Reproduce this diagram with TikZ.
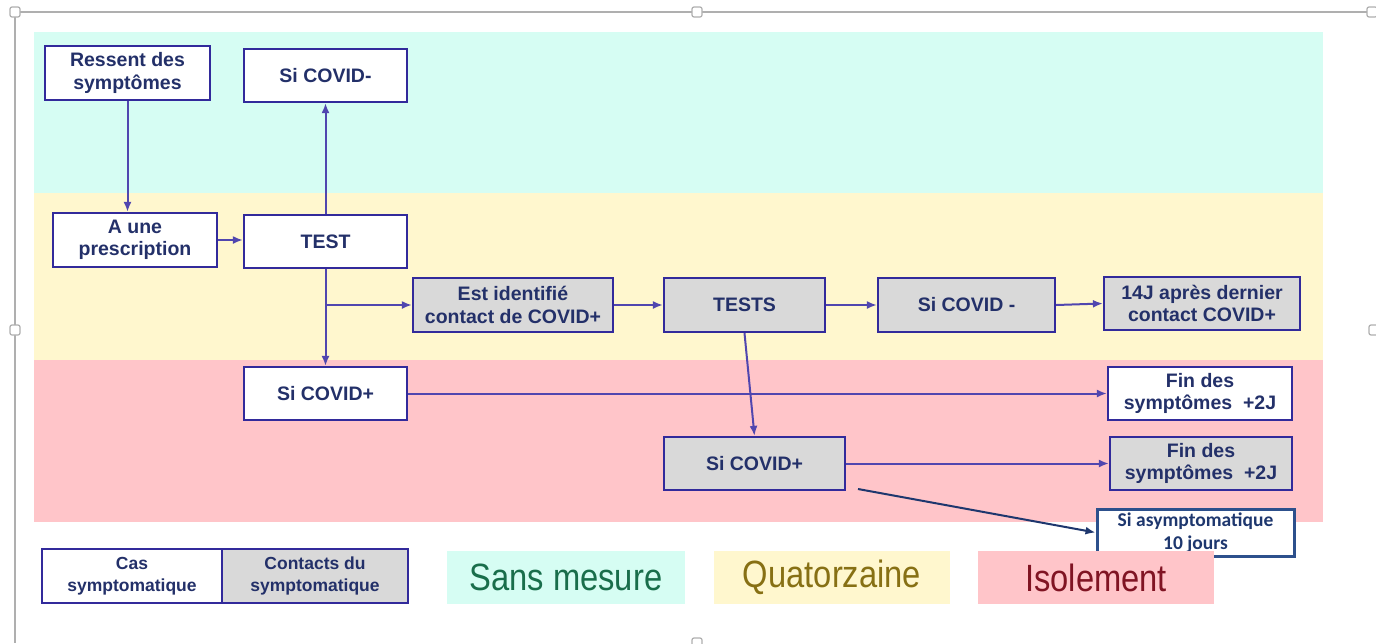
\documentclass[tikz,border=0pt]{standalone}
\usepackage{fontspec}
\setmainfont{Liberation Sans}
\newfontfamily\calib{Carlito}
\newfontfamily\legfont{Liberation Sans}[FakeStretch=0.86]
\usetikzlibrary{arrows.meta}
\definecolor{bandC}{RGB}{214,253,243}
\definecolor{bandY}{RGB}{255,247,206}
\definecolor{bandP}{RGB}{255,197,201}
\definecolor{boxc}{RGB}{50,42,155}
\definecolor{linec}{RGB}{80,70,175}
\definecolor{txt}{RGB}{35,48,105}
\definecolor{greyf}{RGB}{217,217,217}
\definecolor{asymc}{RGB}{45,80,140}
\definecolor{asymt}{RGB}{30,55,110}
\definecolor{frm}{RGB}{175,175,175}
\definecolor{tgreen}{RGB}{25,110,75}
\definecolor{tolive}{RGB}{135,112,20}
\definecolor{tred}{RGB}{128,20,35}
\tikzset{
  wbox/.style={draw=boxc, line width=2.2pt, fill=white, text=txt, align=center, inner sep=0pt,
    font=\fontsize{19.5}{22.5}\selectfont\bfseries},
  gbox/.style={wbox, fill=greyf},
  conn/.style={draw=linec, line width=2pt, -{Latex[length=10pt,width=8pt]}},
  legbox/.style={inner sep=0pt, font=\legfont\fontsize{38}{40}\selectfont},
  handle/.style={draw=frm, fill=white, line width=1.2pt, rounded corners=2pt, minimum size=10pt, inner sep=0pt}
}
\begin{document}
\begin{tikzpicture}[x=1pt,y=-1pt]
\useasboundingbox (0,0) rectangle (1376,643);
% frame
\draw[frm, line width=1.6pt] (15,12) -- (1376,12);
\draw[frm, line width=1.6pt] (15,12) -- (15,643);
\node[handle] (h1) at (15,12) {};
\node[handle] (h2) at (697,12) {};
\node[handle] (h3) at (15,330) {};
\node[handle] (h4) at (1374,330) {};
\node[handle] (h5) at (697,643) {};
\node[handle] (h6) at (1372,12) {};
% bands
\fill[bandC] (34,32) rectangle (1323,193);
\fill[bandY] (34,193) rectangle (1323,360);
\fill[bandP] (34,360) rectangle (1323,522);
% boxes
\node[wbox, minimum width=165pt, minimum height=54pt] (rs) at (127.5,73) {Ressent des\\symptômes};
\node[wbox, minimum width=163pt, minimum height=53pt] (cm) at (325.5,75.5) {Si COVID-};
\node[wbox, minimum width=164pt, minimum height=54pt] (pr) at (135,240) {A une\\prescription};
\node[wbox, minimum width=163pt, minimum height=53pt] (test) at (325.5,241.5) {TEST};
\node[gbox, minimum width=200pt, minimum height=54pt] (est) at (513,305) {Est identifié\\contact de COVID+};
\node[gbox, minimum width=161pt, minimum height=54pt] (tests) at (744.5,305) {TESTS};
\node[gbox, minimum width=177pt, minimum height=54pt] (cm2) at (966.5,305) {Si COVID -};
\node[gbox, minimum width=196pt, minimum height=53pt] (j14) at (1202,303.5) {14J après dernier\\contact COVID+};
\node[wbox, minimum width=163pt, minimum height=53pt] (cp) at (325.5,393.5) {Si COVID+};
\node[wbox, minimum width=184pt, minimum height=53pt] (fin1) at (1200,393.5) {Fin des\\symptômes\ \ +2J};
\node[gbox, minimum width=181pt, minimum height=53pt] (cp2) at (754.5,463.5) {Si COVID+};
\node[gbox, minimum width=182pt, minimum height=53pt] (fin2) at (1201,463.5) {Fin des\\symptômes\ \ +2J};
\node[draw=asymc, line width=3pt, fill=white, text=asymt, align=center, inner sep=0pt,
  font=\calib\fontsize{19.5}{23}\selectfont\bfseries, minimum width=197pt, minimum height=47pt] (asym) at (1195.5,532.5) {Si asymptomatique\\10 jours};
% connectors
\draw[conn] (rs.south) -- (rs.south |- pr.north);
\draw[conn] (pr.east) -- (pr.east -| test.west);
\draw[conn] (test.north) -- (cm.south);
\draw[conn] (test.south) -- (cp.north);
\coordinate (br) at (test.south |- est.west);
\draw[conn] (br) -- (est.west);
\draw[conn] (est.east) -- (tests.west);
\draw[conn] (tests.east) -- (cm2.west);
\draw[conn] (cm2.east) -- (j14.west);
\draw[conn] (cp.east) -- (fin1.west);
\draw[conn] (tests.south) -- (cp2.north);
\draw[conn] (cp2.east) -- (fin2.west);
\coordinate (a0) at (858,489);
\draw[draw=asymt, line width=2pt, -{Latex[length=10pt,width=8pt]}] (a0) -- (asym.west);
% legend
\node[wbox, line width=1.6pt, font=\fontsize{17.5}{21.5}\selectfont\bfseries, minimum width=180pt, minimum height=54pt] (cas) at (132,576) {Cas\\symptomatique};
\node[gbox, line width=1.6pt, font=\fontsize{17.5}{21.5}\selectfont\bfseries, minimum width=186pt, minimum height=54pt] (ctc) at (315,576) {Contacts du\\symptomatique};
\node[legbox, fill=bandC, text=tgreen, minimum width=238pt, minimum height=53pt] (lsm) at (566,577.5) {Sans mesure};
\node[legbox, fill=bandY, text=tolive, minimum width=236pt, minimum height=53pt] (lq) at (832,577.5) {Quatorzaine};
\node[legbox, fill=bandP, text=tred, minimum width=236pt, minimum height=53pt] (li) at (1096,577.5) {Isolement};
\end{tikzpicture}
\end{document}
